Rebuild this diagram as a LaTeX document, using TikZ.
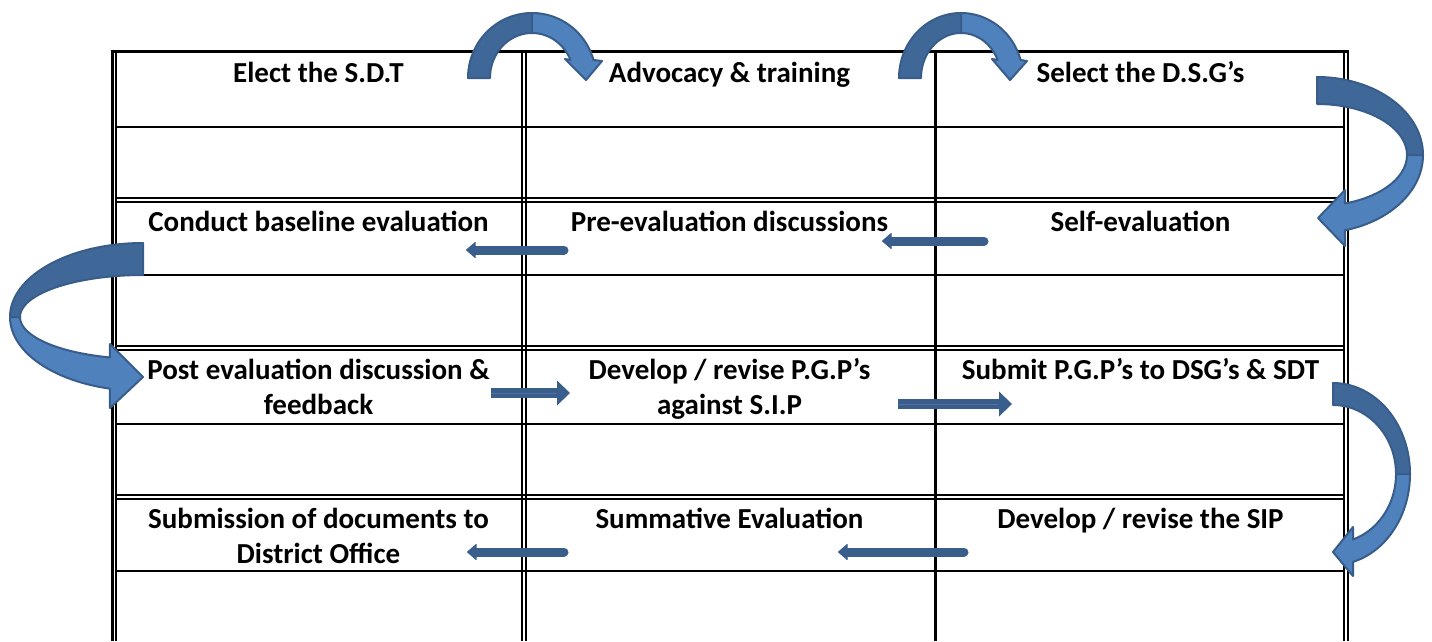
\documentclass[tikz,border=0pt]{standalone}
\usepackage{fontspec}
\setmainfont{Carlito}
\usetikzlibrary{arrows.meta}
\definecolor{backblue}{RGB}{63,103,152}
\definecolor{frontblue}{RGB}{79,129,189}
\definecolor{edgeblue}{RGB}{56,93,138}
\definecolor{flatblue}{RGB}{58,94,140}
\definecolor{stripeblue}{RGB}{78,114,160}
% elliptic band between two ellipses with the same centre, from angle #8 to #9
\def\elband[#1](#2,#3)(#4,#5)(#6,#7)(#8:#9){\filldraw[#1] plot[domain=#8:#9,samples=40] ({#2+#4*cos(\x)},{#3+#5*sin(\x)}) -- plot[domain=#9:#8,samples=40] ({#2+#6*cos(\x)},{#3+#7*sin(\x)}) -- cycle;}

\tikzset{
	cell/.style={anchor=north, inner sep=0pt, align=center, font=\fontsize{29}{35}\selectfont\bfseries},
	thinrule/.style={line width=1.6pt},
	thickrule/.style={line width=3pt},
	twistback/.style={fill=backblue, draw=edgeblue, line width=2pt, line join=round},
	twistfront/.style={fill=frontblue, draw=edgeblue, line width=2pt, line join=round},
	leftarrow/.style={draw=flatblue, fill=flatblue, line width=9pt, line cap=round, -{Triangle[length=10pt,width=17pt,line width=1pt,round]}},
	rightarrow/.style={draw=flatblue, fill=flatblue, line width=10pt, -{Triangle[length=13pt,width=25pt,line width=0pt]},
		postaction={draw=stripeblue, line width=0.8pt, shorten >=14pt, -}},
}

\begin{document}
\begin{tikzpicture}[x=1pt, y=-1pt]
		\useasboundingbox (0,0) rectangle (1432,641);
		\fill[white] (0,0) rectangle (1432,641);
		%%%%% START %%%%%
		% table frame
		\draw[thickrule] (110.5,51) -- (1349,51);
		\draw[thickrule] (112,49.5) -- (112,641);
		\draw[thinrule] (116,53) -- (116,641);
		\draw[thinrule] (1344,53) -- (1344,641);
		\draw[thinrule] (1348,51) -- (1348,641);
		\draw[thinrule] (522,51) -- (522,641);
		\draw[thinrule] (526,51) -- (526,641);
		\draw[thickrule] (935,51) -- (935,641);
		
		\draw[thinrule] (116,127) -- (1344,127);
		\draw[thinrule] (116,198) -- (1344,198);
		\draw[thinrule] (116,202) -- (1344,202);
		\draw[thinrule] (116,275) -- (1344,275);
		\draw[thinrule] (116,346) -- (1344,346);
		\draw[thinrule] (116,350) -- (1344,350);
		\draw[thinrule] (116,424) -- (1344,424);
		\draw[thinrule] (116,495) -- (1344,495);
		\draw[thinrule] (116,499) -- (1344,499);
		\draw[thinrule] (116,571) -- (1344,571);
		
		% steps
		\node[cell] (elect) at (318.5,57.5) {\strut Elect the S.D.T};
		\node[cell] (advocacy) at (729.5,57.5) {\strut Advocacy \& training};
		\node[cell] (select) at (1140.5,57.5) {\strut Select the D.S.G’s};
		\node[cell] (baseline) at (318.5,206.5) {\strut Conduct baseline evaluation};
		\node[cell] (preeval) at (729.5,206.5) {\strut Pre-evaluation discussions};
		\node[cell] (selfeval) at (1140.5,206.5) {\strut Self-evaluation};
		\node[cell] (posteval) at (318.5,354.5) {\strut Post evaluation discussion \&\\feedback};
		\node[cell] (pgp) at (729.5,354.5) {\strut Develop / revise P.G.P’s\\against S.I.P};
		\node[cell] (submit) at (1140.5,354.5) {\strut Submit P.G.P’s to DSG’s \& SDT};
		\node[cell] (documents) at (318.5,503.5) {\strut Submission of documents to\\District Office};
		\node[cell] (summative) at (729.5,503.5) {\strut Summative Evaluation};
		\node[cell] (sip) at (1140.5,503.5) {\strut Develop / revise the SIP};
		
		% flat arrows
		\coordinate (preOut) at (564,250);
		\coordinate (baseIn) at (466,250);
		\coordinate (selfOut) at (984,241);
		\coordinate (preIn) at (882,241);
		\coordinate (postOut) at (491,393);
		\coordinate (pgpIn) at (570,393);
		\coordinate (pgpOut) at (898,404);
		\coordinate (submitIn) at (1012,404);
		\coordinate (sipOut) at (964,552);
		\coordinate (sumIn) at (838,552);
		\coordinate (sumOut) at (564,552);
		\coordinate (docIn) at (467,552);
		\draw[leftarrow] (preOut) -- (baseIn);
		\draw[leftarrow] (selfOut) -- (preIn);
		\draw[rightarrow] (postOut) -- (pgpIn);
		\draw[rightarrow] (pgpOut) -- (submitIn);
		\draw[leftarrow] (sipOut) -- (sumIn);
		\draw[leftarrow] (sumOut) -- (docIn);
		
		% curved arrows over the top
		\elband[twistback](532,78)(64,65)(42,45)(180:270);
		\filldraw[twistfront] plot[domain=270:343.9,samples=30] ({532+64*cos(\x)},{78+65*sin(\x)}) -- (602,61) -- (586,80) -- (565,59) -- plot[domain=336.4:270,samples=30] ({532+42*cos(\x)},{78+45*sin(\x)}) -- cycle;
		\elband[twistback](961,78)(62,65)(40,45)(180:270);
		\filldraw[twistfront] plot[domain=270:343.9,samples=30] ({961+62*cos(\x)},{78+65*sin(\x)}) -- (1027,61) -- (1010,80) -- (992,59) -- plot[domain=336.4:270,samples=30] ({961+40*cos(\x)},{78+45*sin(\x)}) -- cycle;
		
		% curved arrows down the right side
		\elband[twistback](1317,155)(106,78)(90,51)(270:360);
		\filldraw[twistfront] plot[domain=0:74.7,samples=30] ({1317+106*cos(\x)},{155+78*sin(\x)}) -- (1345,246) -- (1318,218) -- (1345,190) -- plot[domain=71.9:0,samples=30] ({1317+90*cos(\x)},{155+51*sin(\x)}) -- cycle;
		\elband[twistback](1333,474)(77,91)(63,69)(270:360);
		\filldraw[twistfront] plot[domain=0:74.9,samples=30] ({1333+77*cos(\x)},{474+91*sin(\x)}) -- (1353,576) -- (1333,552) -- (1353,527) -- plot[domain=71.5:0,samples=30] ({1333+63*cos(\x)},{474+69*sin(\x)}) -- cycle;
		
		% curved arrow down the left side
		\elband[twistback](143,317)(133,74)(123,42)(270:180);
		\filldraw[twistfront] plot[domain=180:104.4,samples=30] ({143+133*cos(\x)},{317+74*sin(\x)}) -- (110,408) -- (143,377) -- (110,344) -- plot[domain=105.6:180,samples=30] ({143+123*cos(\x)},{317+42*sin(\x)}) -- cycle;
		%%%%% END %%%%%
	\end{tikzpicture}
\end{document}
